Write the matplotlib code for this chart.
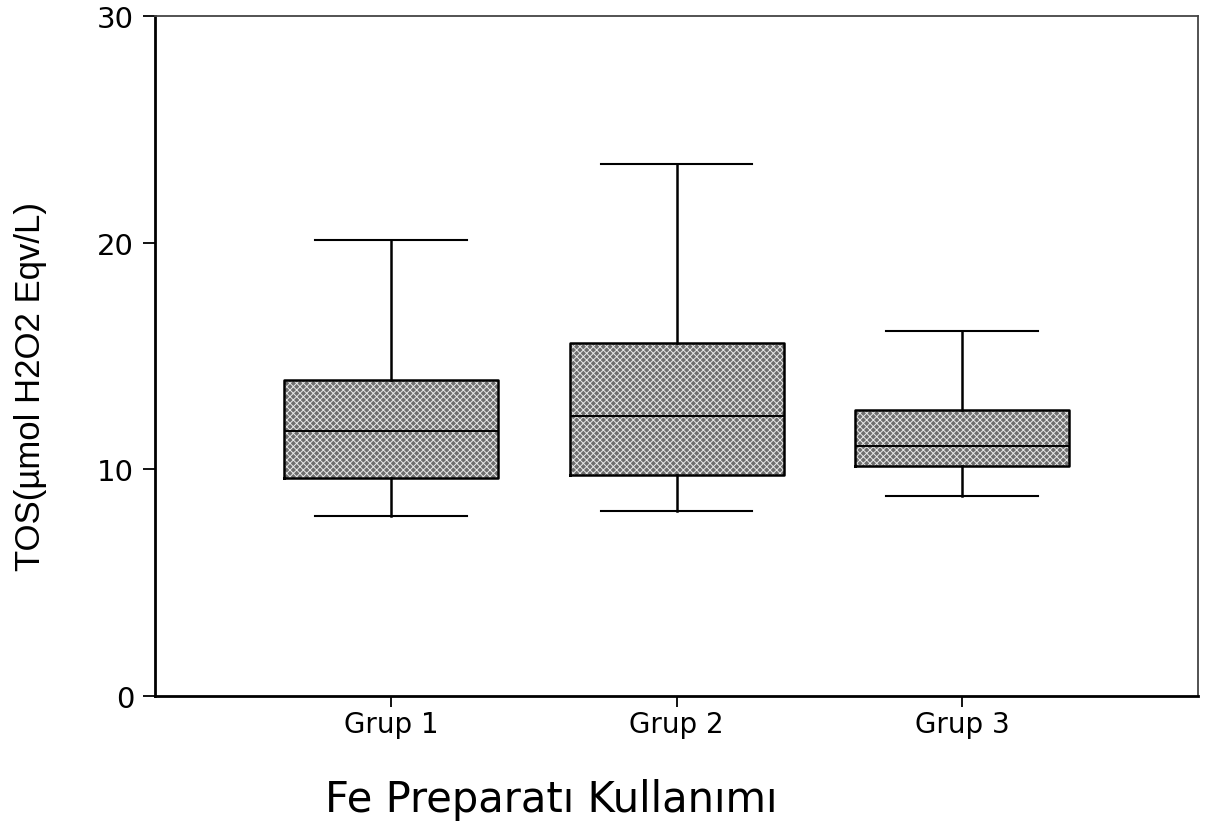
"""
Box plot of TOS by Fe preparation group.
"""
import matplotlib
matplotlib.use("Agg")
import matplotlib.pyplot as plt

# --- DATA --- #
groups = ["Grup 1", "Grup 2", "Grup 3"]
whisker_low = [7.94, 8.16, 8.82]
q1 = [9.62, 9.75, 10.15]
medians = [11.69, 12.35, 11.03]
q3 = [13.94, 15.57, 12.62]
whisker_high = [20.11, 23.47, 16.10]

y_ticks = [0, 10, 20, 30]

plt.rcParams["hatch.linewidth"] = 0.7

fig = plt.figure(figsize=(12.18, 8.29), dpi=100)
ax = fig.add_axes([0.1273, 0.1592, 0.8563, 0.8203])

stats = []
for name, lo, a, m, b, hi in zip(groups, whisker_low, q1, medians, q3, whisker_high):
    stats.append({"label": name, "whislo": lo, "q1": a, "med": m, "q3": b, "whishi": hi, "fliers": []})

positions = [1, 2, 3]

# --- HATCHED FILL (white cross hatch on gray) --- #
ax.bxp(stats, positions=positions, widths=0.75, patch_artist=True,
       showfliers=False, capwidths=0.53,
       boxprops=dict(facecolor="#6e6e6e", edgecolor="#e8e8e8", linewidth=0, hatch="xxxxx"),
       whiskerprops=dict(linewidth=0), capprops=dict(linewidth=0),
       medianprops=dict(linewidth=0))

# --- BLACK OUTLINES, WHISKERS, MEDIANS --- #
ax.bxp(stats, positions=positions, widths=0.75, showfliers=False, capwidths=0.53,
       boxprops=dict(color="black", linewidth=1.8),
       whiskerprops=dict(color="black", linewidth=1.8),
       capprops=dict(color="black", linewidth=1.5),
       medianprops=dict(color="black", linewidth=1.4))

ax.set_xlim(0.173, 3.827)
ax.set_ylim(0, 30)
ax.set_yticks(y_ticks)
ax.set_xticks(positions)
ax.set_xticklabels(groups, fontfamily="DejaVu Sans", fontsize=20)
for lab in ax.get_yticklabels():
    lab.set_fontfamily("DejaVu Sans")
    lab.set_fontsize(21)

ax.tick_params(axis="y", length=9, width=1.3, pad=6, color="black")
ax.tick_params(axis="x", length=8, width=1.3, pad=2, color="black")

for side in ["left", "bottom"]:
    ax.spines[side].set_linewidth(2.0)
    ax.spines[side].set_color("black")
for side in ["top", "right"]:
    ax.spines[side].set_linewidth(1.3)
    ax.spines[side].set_color("#444444")

# --- AXIS LABELS --- #
ax.set_ylabel("TOS(µmol H2O2 Eqv/L)", fontfamily="Liberation Sans", fontsize=25)
ax.yaxis.set_label_coords(-0.104, 0.457)
ax.set_xlabel("Fe Preparatı Kullanımı", fontfamily="DejaVu Sans", fontsize=30, va="center")
ax.xaxis.set_label_coords(0.38, -0.151)

fig.savefig("out.png", dpi=100)
